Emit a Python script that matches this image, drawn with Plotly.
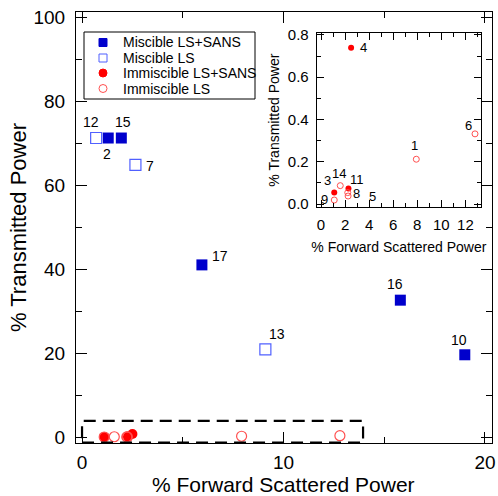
import plotly.graph_objects as go

# Miscible samples, light scattering + SANS
mis_sans_id = ["2", "15", "17", "16", "10"]
mis_sans_x = [1.3, 1.95, 5.95, 15.8, 19.0]
mis_sans_y = [71.2, 71.2, 41.0, 32.6, 19.6]

# Miscible samples, light scattering only
mis_ls_id = ["12", "7", "13"]
mis_ls_x = [0.7, 2.65, 9.1]
mis_ls_y = [71.2, 64.8, 20.9]

# Immiscible samples, light scattering + SANS
imm_sans_id = ["3", "11", "4"]
imm_sans_x = [1.1, 2.28, 2.5]
imm_sans_y = [0.054, 0.073, 0.74]

# Immiscible samples, light scattering only
imm_ls_id = ["9", "14", "8", "5", "1", "6"]
imm_ls_x = [1.1, 1.6, 2.22, 2.25, 7.92, 12.8]
imm_ls_y = [0.019, 0.087, 0.054, 0.038, 0.212, 0.332]

# Outline of the zoomed region shown in the inset
zoom_x = [0.0, 13.95]
zoom_y = [-1.3, 3.85]

legend_names = ["Miscible LS+SANS", "Miscible LS", "Immiscible LS+SANS", "Immiscible LS"]

FONT = "Liberation Sans, Arial, sans-serif"
BLUE = "#0000CC"
BLUE_OPEN = "#5060FF"
RED = "#FF0000"
RED_OPEN = "#FF5050"

# label offsets in pixels (right, up)
main_offsets = {"2": (-1, -16), "15": (2, 16), "17": (18, 9), "16": (-5, 16),
                "10": (-6, 15), "12": (-5, 16), "7": (15, -1), "13": (12, 15)}
inset_offsets = {"3": (-7, 12), "11": (9, 9), "4": (12, 0), "9": (-10, 1),
                 "14": (-1, 12), "8": (9, -1), "5": (24, 0), "1": (-2, 14), "6": (-7, 8)}

W, H = 498, 496
L, R, T, B = 76, 6, 12, 53
PW, PH = W - L - R, H - T - B


def px(xp):
    return (xp - L) / PW


def py(yp):
    return (H - B - yp) / PH


fig = go.Figure()

main_series = [
    (mis_sans_x, mis_sans_y, dict(symbol="square", size=11, color=BLUE, line=dict(width=0))),
    (mis_ls_x, mis_ls_y, dict(symbol="square-open", size=11, color=BLUE_OPEN, line=dict(width=1.2))),
    (imm_sans_x, imm_sans_y, dict(symbol="circle", size=10, color=RED, line=dict(width=0))),
    (imm_ls_x, imm_ls_y, dict(symbol="circle-open", size=10, color=RED_OPEN, line=dict(width=1.2))),
]
for (xs, ys, mk), name in zip(main_series, legend_names):
    fig.add_trace(go.Scatter(x=xs, y=ys, mode="markers", name=name, marker=mk,
                             showlegend=False, xaxis="x", yaxis="y"))

inset_series = [
    (imm_sans_x, imm_sans_y, dict(symbol="circle", size=6, color=RED, line=dict(width=0))),
    (imm_ls_x, imm_ls_y, dict(symbol="circle-open", size=6, color=RED_OPEN, line=dict(width=1))),
]
for xs, ys, mk in inset_series:
    fig.add_trace(go.Scatter(x=xs, y=ys, mode="markers", marker=mk, showlegend=False,
                             xaxis="x2", yaxis="y2"))

annotations = []
for ids, xs, ys in [(mis_sans_id, mis_sans_x, mis_sans_y), (mis_ls_id, mis_ls_x, mis_ls_y)]:
    for i, xv, yv in zip(ids, xs, ys):
        dx, dy = main_offsets[i]
        annotations.append(dict(x=xv, y=yv, xref="x", yref="y", text=i, showarrow=False,
                                xshift=dx, yshift=dy, font=dict(size=14, color="black", family=FONT)))
for ids, xs, ys in [(imm_sans_id, imm_sans_x, imm_sans_y), (imm_ls_id, imm_ls_x, imm_ls_y)]:
    for i, xv, yv in zip(ids, xs, ys):
        dx, dy = inset_offsets[i]
        annotations.append(dict(x=xv, y=yv, xref="x2", yref="y2", text=i, showarrow=False,
                                xshift=dx, yshift=dy, font=dict(size=13, color="black", family=FONT)))

# main x-axis title, placed below the tick labels
annotations.append(dict(x=px(283.5), y=py(484), xref="paper", yref="paper",
                        text="% Forward Scattered Power", showarrow=False,
                        xanchor="center", yanchor="middle", borderpad=0,
                        font=dict(size=21, color="black", family=FONT)))

shapes = [dict(type="rect", xref="x", yref="y", x0=zoom_x[0], x1=zoom_x[1], y0=zoom_y[0], y1=zoom_y[1],
               line=dict(color="black", width=2.2, dash="12px,7px"), layer="above")]

# Hand-drawn legend box (compact row spacing)
shapes.append(dict(type="rect", xref="paper", yref="paper", x0=px(84), x1=px(255), y0=py(99), y1=py(32),
                   line=dict(color="black", width=1), fillcolor="white", layer="above"))
legend_rows = [42.5, 58, 73, 88.5]
legend_styles = [("rect", BLUE, BLUE), ("rect", BLUE_OPEN, None), ("circle", RED, RED), ("circle", RED_OPEN, None)]
for yr, (kind, lc, fc), name in zip(legend_rows, legend_styles, legend_names):
    half = 4
    shapes.append(dict(type=kind, xref="paper", yref="paper",
                       x0=px(103 - half), x1=px(103 + half), y0=py(yr + half), y1=py(yr - half),
                       line=dict(color=lc, width=1), fillcolor=fc if fc else "rgba(0,0,0,0)", layer="above"))
    annotations.append(dict(x=px(121), y=py(yr), xref="paper", yref="paper", text=name,
                            showarrow=False, xanchor="left", yanchor="middle",
                            font=dict(size=14, color="black", family=FONT)))

main_axis = dict(showgrid=False, zeroline=False, showline=True, linecolor="black", linewidth=1,
                 mirror="ticks", ticks="inside", ticklen=11, tickwidth=1, tickcolor="black",
                 automargin=False, tickfont=dict(size=19, family=FONT, color="black"))
inset_axis = dict(showgrid=False, zeroline=False, showline=True, linecolor="black", linewidth=1,
                  mirror="ticks", ticks="inside", ticklen=7, tickwidth=1, tickcolor="black",
                  automargin=False, tickfont=dict(size=15, family=FONT, color="black"))

fig.update_layout(
    width=W, height=H,
    margin=dict(l=L, r=R, t=T, b=B),
    plot_bgcolor="white", paper_bgcolor="white",
    font=dict(family=FONT, color="black"),
    showlegend=False,
    xaxis=dict(main_axis, range=[-0.3, 20.35], tickvals=[0, 10, 20],
               minor=dict(ticks="inside", ticklen=6, dtick=5, tick0=0, tickcolor="black"),
               ticklabelstandoff=2),
    yaxis=dict(main_axis, range=[-1.4, 101.2], tickvals=[0, 20, 40, 60, 80, 100],
               minor=dict(ticks="inside", ticklen=6, dtick=10, tick0=0, tickcolor="black"),
               title=dict(text="% Transmitted Power", font=dict(size=22, family=FONT), standoff=0),
               ticklabelstandoff=6),
    xaxis2=dict(inset_axis, domain=[0.5786, 0.9736], anchor="y2", range=[-0.36, 13.3],
                tickvals=[0, 2, 4, 6, 8, 10, 12],
                minor=dict(ticks="inside", ticklen=4, dtick=1, tick0=0, tickcolor="black"),
                title=dict(text="% Forward Scattered Power", font=dict(size=14, family=FONT), standoff=10),
                ticklabelstandoff=4),
    yaxis2=dict(inset_axis, domain=[0.5476, 0.9506], anchor="x2", range=[-0.014, 0.808],
                tickvals=[0, 0.2, 0.4, 0.6, 0.8], ticktext=["0.0", "0.2", "0.4", "0.6", "0.8"],
                minor=dict(ticks="inside", ticklen=4, dtick=0.1, tick0=0, tickcolor="black"),
                title=dict(text="% Transmitted Power", font=dict(size=14, family=FONT), standoff=4),
                ticklabelstandoff=4),
    annotations=annotations,
    shapes=shapes,
)

fig.write_html("out.html")
